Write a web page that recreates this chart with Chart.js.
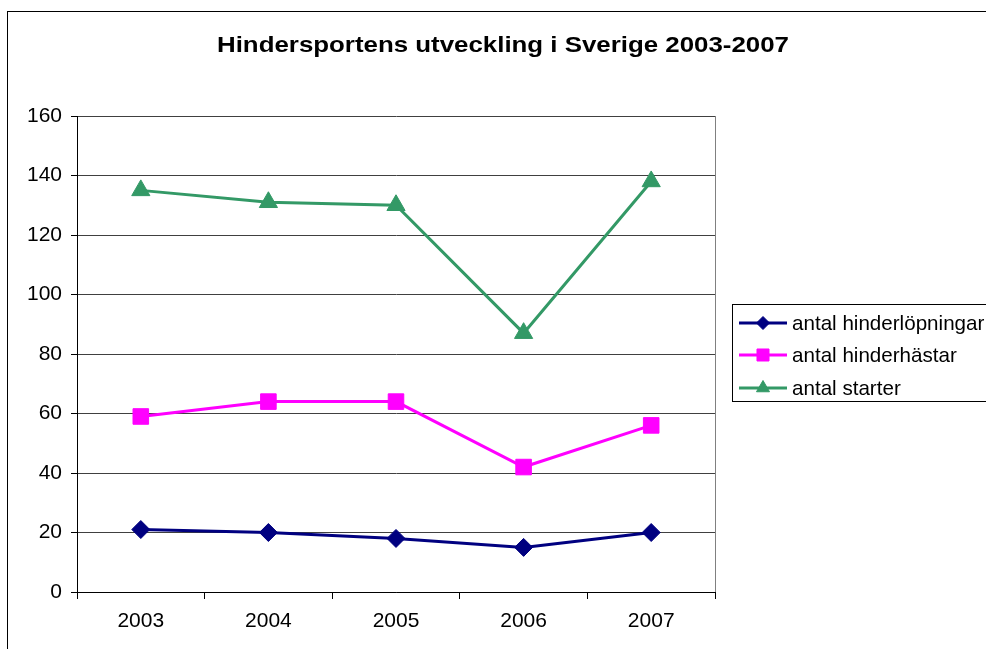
<!DOCTYPE html>
<html>
<head>
<meta charset="utf-8">
<script src="https://cdn.jsdelivr.net/npm/chart.js@4"></script>
<style>
  html, body { margin: 0; padding: 0; background: #fff; }
  #wrap { width: 986px; height: 649px; }
</style>
</head>
<body>
<div id="wrap"><canvas id="grafico" width="986" height="649"></canvas></div>
<script>
var titel = "Hindersportens utveckling i Sverige 2003-2007";
var ar = ["2003", "2004", "2005", "2006", "2007"];
var serieNamn = ["antal hinderlöpningar", "antal hinderhästar", "antal starter"];
var hinderlopningar = [21, 20, 18, 15, 20];
var hinderhastar = [59, 64, 64, 42, 56];
var starter = [135, 131, 130, 87, 138];
var yTicks = [0, 20, 40, 60, 80, 100, 120, 140, 160];

var font = "'Liberation Sans', Arial, sans-serif";

// ram, titel och legend ritas för hand
var ramPlugin = {
    id: "ram",
    beforeDraw: function (chart) {
        var ctx = chart.ctx;
        ctx.save();
        ctx.fillStyle = "#fff";
        ctx.fillRect(0, 0, chart.width, chart.height);
        ctx.strokeStyle = "#000";
        ctx.lineWidth = 1;
        ctx.strokeRect(7.5, 11.5, 1100, 800);
        ctx.restore();
    },
    afterDraw: function (chart) {
        var ctx = chart.ctx;
        var area = chart.chartArea;
        ctx.save();

        // höger kant på ritytan
        ctx.strokeStyle = "#808080";
        ctx.lineWidth = 1;
        ctx.beginPath();
        ctx.moveTo(Math.round(area.right) + 0.5, area.top);
        ctx.lineTo(Math.round(area.right) + 0.5, area.bottom);
        ctx.stroke();

        // titel (lite utdragen i bredd som i originalet)
        ctx.fillStyle = "#000";
        ctx.font = "bold 22.5px " + font;
        ctx.textAlign = "center";
        ctx.textBaseline = "middle";
        var sx = 572 / ctx.measureText(titel).width;
        ctx.save();
        ctx.translate(503, 46);
        ctx.scale(sx, 1);
        ctx.fillText(titel, 0, 0);
        ctx.restore();

        // legend
        ctx.strokeStyle = "#000";
        ctx.lineWidth = 1;
        ctx.strokeRect(732.5, 304.5, 400, 97);
        var rader = [323, 355, 388];
        var storlek = [6.5, 8.5, 7.5];
        chart.data.datasets.forEach(function (ds, i) {
            var y = rader[i];
            ctx.strokeStyle = ds.borderColor;
            ctx.lineWidth = 3;
            ctx.beginPath();
            ctx.moveTo(739, y);
            ctx.lineTo(787, y);
            ctx.stroke();
            ctx.fillStyle = ds.backgroundColor;
            ctx.strokeStyle = ds.borderColor;
            ctx.lineWidth = 1;
            Chart.helpers.drawPoint(ctx, {
                pointStyle: ds.pointStyle,
                rotation: 0,
                radius: storlek[i],
                borderWidth: 1
            }, 763, y);
            ctx.fillStyle = "#000";
            ctx.font = "20.6px " + font;
            ctx.textAlign = "left";
            ctx.textBaseline = "middle";
            ctx.fillText(ds.label, 792, y + 1);
        });
        ctx.restore();
    }
};

new Chart(document.getElementById("grafico").getContext("2d"), {
    type: "line",
    data: {
        labels: ar,
        datasets: [{
            label: serieNamn[0],
            data: hinderlopningar,
            borderColor: "#000080",
            backgroundColor: "#000080",
            borderWidth: 3,
            pointStyle: "rectRot",
            pointRadius: 9,
            pointBorderWidth: 1
        }, {
            label: serieNamn[1],
            data: hinderhastar,
            borderColor: "#ff00ff",
            backgroundColor: "#ff00ff",
            borderWidth: 3,
            pointStyle: "rect",
            pointRadius: 11,
            pointBorderWidth: 1
        }, {
            label: serieNamn[2],
            data: starter,
            borderColor: "#339966",
            backgroundColor: "#339966",
            borderWidth: 3,
            pointStyle: "triangle",
            pointRadius: 10.5,
            pointBorderWidth: 1
        }]
    },
    options: {
        responsive: false,
        animation: false,
        layout: {
            padding: { left: 0, top: 116, right: 271, bottom: 0 }
        },
        plugins: {
            legend: { display: false },
            title: { display: false },
            tooltip: { enabled: false }
        },
        scales: {
            x: {
                offset: true,
                grid: {
                    offset: true,
                    drawOnChartArea: false,
                    drawTicks: true,
                    tickLength: 7,
                    color: "#000"
                },
                border: { display: true, color: "#000", width: 1 },
                ticks: {
                    color: "#000",
                    font: { family: font, size: 21 },
                    padding: 10,
                    maxRotation: 0
                },
                afterFit: function (scale) { scale.height = 57; }
            },
            y: {
                min: 0,
                max: 160,
                afterBuildTicks: function (scale) {
                    scale.ticks = yTicks.map(function (v) { return { value: v }; });
                },
                grid: {
                    color: "#404040",
                    tickColor: "#000",
                    tickLength: 6
                },
                border: { display: true, color: "#000", width: 1 },
                ticks: {
                    color: "#000",
                    font: { family: font, size: 21 },
                    padding: 9
                },
                afterFit: function (scale) { scale.width = 77; }
            }
        }
    },
    plugins: [ramPlugin]
});
</script>
</body>
</html>
